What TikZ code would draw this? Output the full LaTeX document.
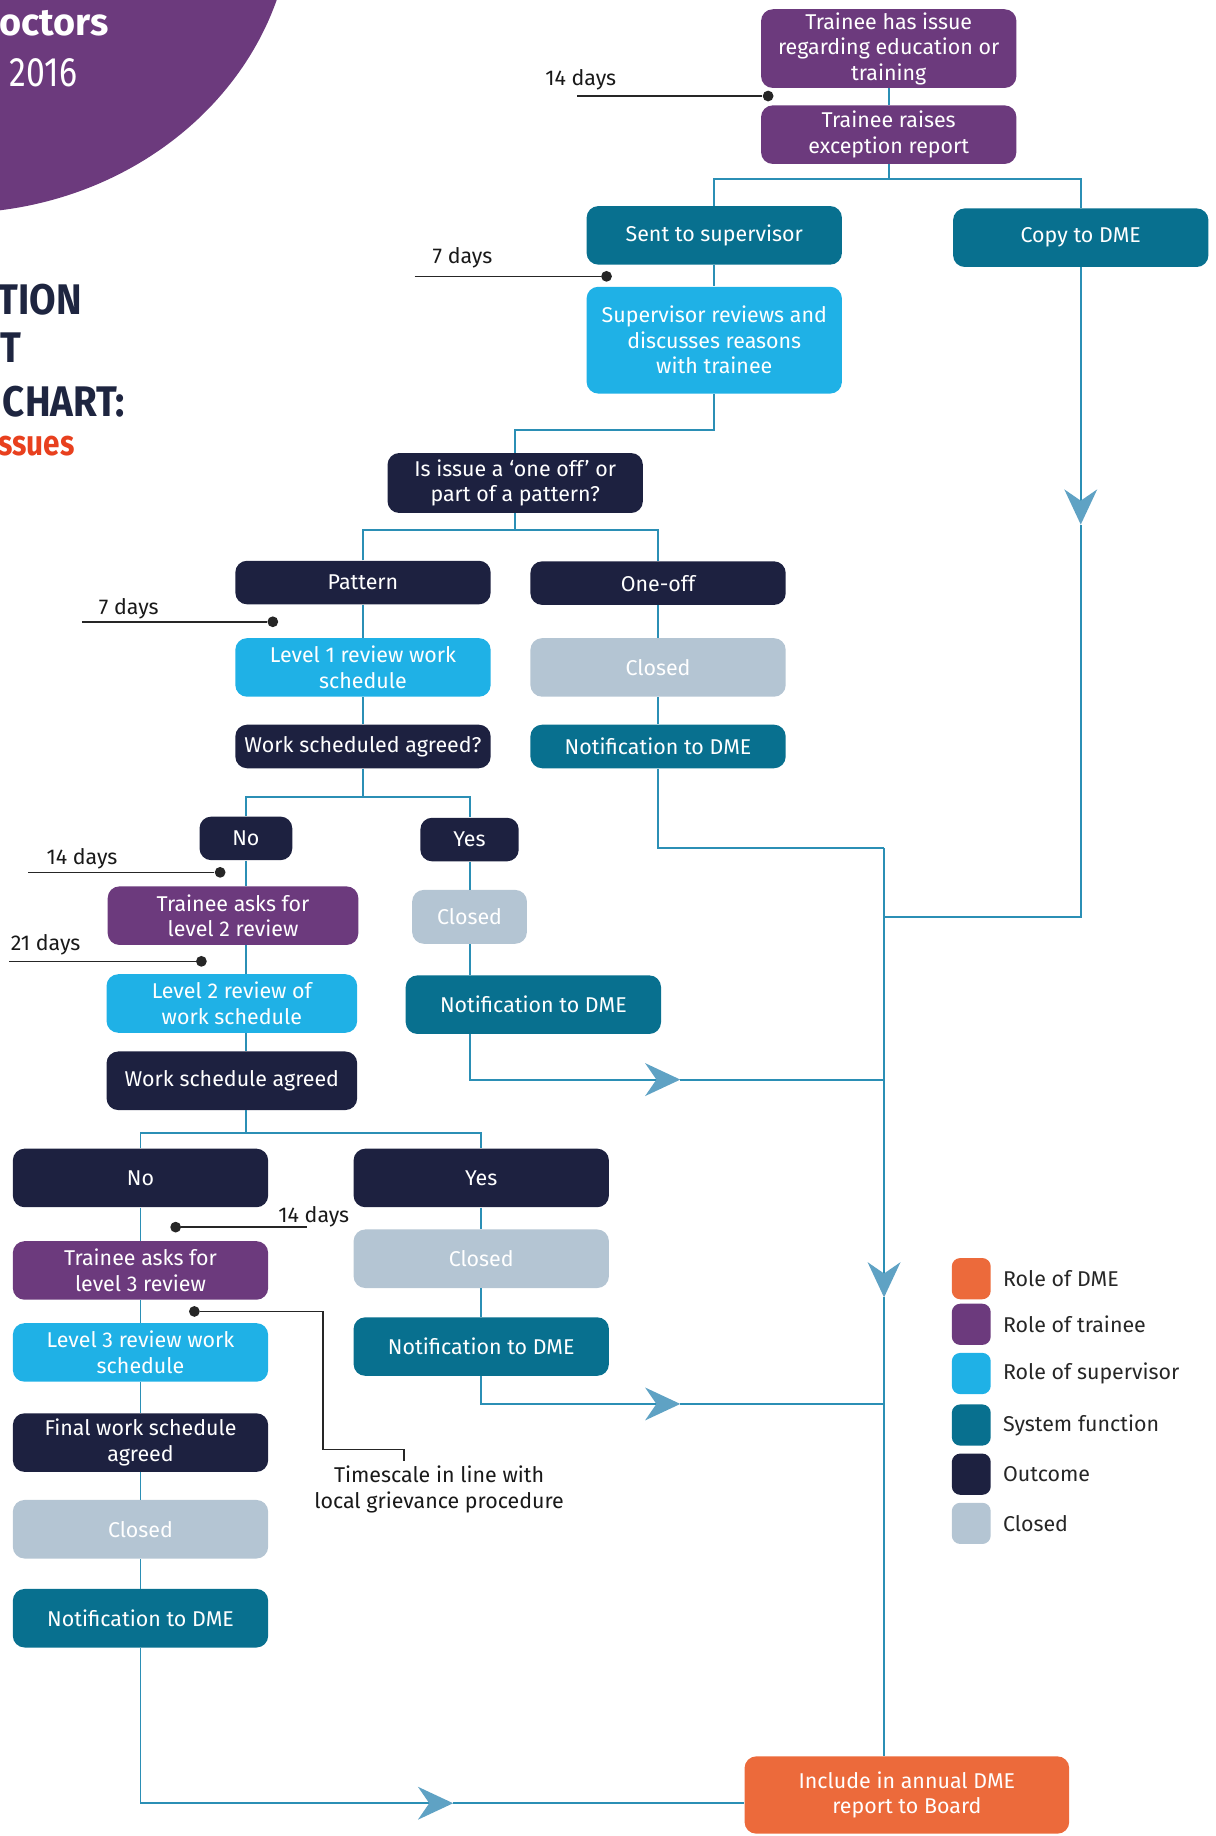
\documentclass[tikz,border=0pt]{standalone}
\usepackage{fontspec}
\setmainfont{Fira Sans}
\usepackage{graphicx}
\usepackage{tikz}
\usetikzlibrary{arrows.meta}
\usetikzlibrary{positioning}

\definecolor{traineeC}{HTML}{6C3A7D}
\definecolor{superC}{HTML}{1FB1E6}
\definecolor{systemC}{HTML}{08708F}
\definecolor{outcomeC}{HTML}{1D2140}
\definecolor{closedC}{HTML}{B4C5D3}
\definecolor{dmeC}{HTML}{EC6A3B}
\definecolor{lineC}{HTML}{2B8FB5}
\definecolor{tipC}{HTML}{5FA2C4}
\definecolor{titleC}{HTML}{1E2540}
\definecolor{issuesC}{HTML}{E8401E}

\newcommand{\boxfont}{\fontsize{13}{15.5}\selectfont}
\newcommand{\squeeze}[1]{\scalebox{0.9}[1]{#1}}

\tikzset{
  flowbox/.style={rectangle, rounded corners=0.25cm, align=center, text=white,
    font=\boxfont, inner sep=0pt, minimum width=5.45cm, minimum height=1.25cm},
  slim/.style={minimum height=0.93cm},
  traineebox/.style={flowbox, fill=traineeC},
  supbox/.style={flowbox, fill=superC},
  sysbox/.style={flowbox, fill=systemC},
  outbox/.style={flowbox, fill=outcomeC},
  closedbox/.style={flowbox, fill=closedC},
  dmebox/.style={flowbox, fill=dmeC},
  link/.style={draw=lineC, line width=1.2pt},
  midarrow/.style={-{Stealth[length=0.75cm, width=0.7cm, inset=0.24cm, color=tipC]}},
  daydot/.style={circle, fill=black!85, inner sep=0pt, minimum size=0.23cm},
  timeline/.style={draw=black!85, line width=0.9pt},
  daylbl/.style={font=\boxfont, text=black!90, inner sep=0pt, align=center},
  keybox/.style={rounded corners=0.18cm, minimum width=0.83cm, minimum height=0.88cm, inner sep=0pt},
  keytext/.style={font=\boxfont, text=black!85, inner sep=0pt},
  heading/.style={font=\bfseries\fontsize{26}{28}\selectfont, text=titleC, inner sep=0pt, anchor=base east}
}

\begin{document}
\begin{tikzpicture}[x=0.025cm, y=-0.025cm]
\useasboundingbox (0,0) rectangle (1038,1568);

% Cut-off title corner
\fill[traineeC] (-40,-80) ellipse [x radius=7.25cm, y radius=6.55cm];
\node[heading, text=white, font=\bfseries\fontsize{23}{25}\selectfont] (hdDoc) at (93,30) {octors};
\node[heading, text=white, font=\fontsize{25}{27}\selectfont, anchor=base west] (hdYear) at (8,73.5) {\scalebox{0.82}[1]{2016}};
\node[heading] (hdA) at (70,269) {\squeeze{TION}};
\node[heading, anchor=base west] (hdB) at (0,310) {\squeeze{T}};
\node[heading] (hdC) at (107,356) {\squeeze{CHART:}};
\node[heading, text=issuesC, font=\bfseries\fontsize{21.5}{23}\selectfont] (hdD) at (64,389) {\scalebox{0.84}[1]{ssues}};

% Flow boxes
\node[traineebox, minimum height=1.68cm] (trIssue) at (759,41.5) {Trainee has issue\\regarding education or\\training};
\node[traineebox] (trRaise) at (759,115) {Trainee raises\\exception report};
\node[sysbox] (sentSup) at (610,201) {Sent to supervisor};
\node[sysbox] (copyDME) at (923,203) {Copy to DME};
\node[supbox, minimum height=2.28cm] (supRev) at (610,290.5) {Supervisor reviews and\\discusses reasons\\with trainee};
\node[outbox, minimum height=1.28cm] (question) at (440,412.5) {Is issue a `one off' or\\part of a pattern?};
\node[outbox, slim] (pattern) at (310,497.5) {Pattern};
\node[outbox, slim] (oneOff) at (562,498) {One-off};
\node[supbox] (lvlOne) at (310,570) {Level 1 review work\\schedule};
\node[closedbox] (closedA) at (562,570) {Closed};
\node[outbox, slim] (askAgreed) at (310,637.5) {Work scheduled agreed?};
\node[sysbox, slim] (notifA) at (562,637.5) {Notification to DME};

\node[outbox, slim, minimum width=1.98cm] (noA) at (210,716) {No};
\node[outbox, slim, minimum width=2.1cm] (yesA) at (401,717) {Yes};
\node[traineebox, minimum width=5.35cm] (trLvlTwo) at (199,782) {Trainee asks for\\level 2 review};
\node[closedbox, minimum width=2.45cm, minimum height=1.15cm] (closedB) at (401,783) {Closed};
\node[supbox, minimum width=5.35cm] (lvlTwo) at (198,857) {Level 2 review of\\work schedule};
\node[sysbox] (notifB) at (455.5,858) {Notification to DME};
\node[outbox, minimum width=5.35cm] (wsAgreed) at (198,923) {Work schedule agreed};

\node[outbox] (noB) at (120,1006) {No};
\node[outbox] (yesB) at (411,1006) {Yes};
\node[traineebox] (trLvlThree) at (120,1085) {Trainee asks for\\level 3 review};
\node[closedbox] (closedC) at (411,1075) {Closed};
\node[supbox] (lvlThree) at (120,1155) {Level 3 review work\\schedule};
\node[sysbox] (notifC) at (411,1150) {Notification to DME};
\node[outbox] (finalWS) at (120,1232) {Final work schedule\\agreed};
\node[closedbox] (closedD) at (120,1306) {Closed};
\node[sysbox] (notifD) at (120,1382) {Notification to DME};

\node[dmebox, minimum width=6.93cm, minimum height=1.65cm] (report) at (774.5,1533) {Include in annual DME\\report to Board};

% Branch points
\coordinate (splitA) at (759,153);
\coordinate (bendA) at (440,367);
\coordinate (splitB) at (440,453);
\coordinate (splitC) at (310,681);
\coordinate (splitD) at (210,968);

% Connectors
\draw[link] (trIssue) -- (trRaise);
\draw[link] (trRaise) -- (splitA);
\draw[link] (sentSup) |- (splitA) -| (copyDME);
\draw[link] (sentSup) -- (supRev);
\draw[link] (supRev) |- (bendA) -- (question);
\draw[link] (question) -- (splitB);
\draw[link] (pattern) |- (splitB) -| (oneOff);
\draw[link] (pattern) -- (lvlOne);
\draw[link] (lvlOne) -- (askAgreed);
\draw[link] (oneOff) -- (closedA);
\draw[link] (closedA) -- (notifA);
\draw[link] (askAgreed) -- (splitC);
\draw[link] (noA) |- (splitC) -| (yesA);
\draw[link] (noA) -- (noA |- trLvlTwo.north);
\draw[link] (noA |- trLvlTwo.south) -- (noA |- lvlTwo.north);
\draw[link] (noA |- lvlTwo.south) -- (noA |- wsAgreed.north);
\draw[link] (noA |- wsAgreed.south) -- (splitD);
\draw[link] (yesA) -- (closedB);
\draw[link] (closedB) -- (yesA |- notifB.north);
\draw[link] (noB) |- (splitD) -| (yesB);
\draw[link] (noB) -- (trLvlThree);
\draw[link] (trLvlThree) -- (lvlThree);
\draw[link] (lvlThree) -- (finalWS);
\draw[link] (finalWS) -- (closedD);
\draw[link] (closedD) -- (notifD);
\draw[link] (yesB) -- (closedC);
\draw[link] (closedC) -- (notifC);

% Lines into the annual report
\coordinate (joinA) at (755,724);
\coordinate (joinB) at (755,783);
\coordinate (tipA) at (923,448);
\coordinate (tipB) at (755,1108);
\coordinate (tipC) at (581,922);
\coordinate (tipD) at (581,1199);
\coordinate (tipE) at (387,1540);
\draw[link] (notifA) |- (joinA);
\draw[link, midarrow] (copyDME) -- (tipA);
\draw[link] (tipA) |- (joinB);
\draw[link, midarrow] (joinA) -- (tipB);
\draw[link] (tipB) -- (joinA |- report.north);
\draw[link, midarrow] (yesA |- notifB.south) |- (tipC);
\draw[link] (tipC) -- (joinA |- tipC);
\draw[link, midarrow] (notifC) |- (tipD);
\draw[link] (tipD) -- (joinA |- tipD);
\draw[link, midarrow] (notifD) |- (tipE);
\draw[link] (tipE) -- (report.west |- tipE);

% Timescales
\foreach \n/\dx/\tx/\ty/\lx/\ly/\d in {A/656/493/82/496/68/14, B/518/354/236/395/220/7,
    C/233/70/531/110/520/7, D/188/24/745/70/733/14, E/172/8/821/39/807/21,
    F/150/262/1048/268/1039/14} {
  \node[daydot] (dot\n) at (\dx,\ty) {};
  \coordinate (t\n) at (\tx,\ty);
  \draw[timeline] (t\n) -- (dot\n);
  \node[daylbl] (lbl\n) at (\lx,\ly) {\d{} days};
}
\node[daydot] (dotG) at (166,1120) {};
\coordinate (gA) at (276,1238);
\coordinate (gB) at (345,1248);
\draw[timeline] (dotG) -| (gA) -| (gB);
\node[daylbl] (lblG) at (375,1272) {Timescale in line with\\local grievance procedure};

% Key
\foreach \y/\c/\t [count=\i] in {1092/dmeC/Role of DME, 1131/traineeC/Role of trainee,
    1173/superC/Role of supervisor, 1217/systemC/System function,
    1259/outcomeC/Outcome, 1301/closedC/Closed} {
  \node[keybox, fill=\c] (key\i) at (829.5,\y) {};
  \node[keytext, right=0.25cm of key\i] (keyt\i) {\t};
}
\end{tikzpicture}
\end{document}
